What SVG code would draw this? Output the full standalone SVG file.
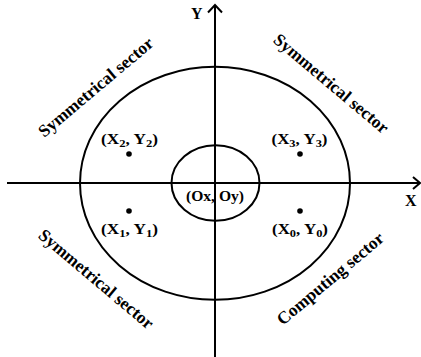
<svg xmlns="http://www.w3.org/2000/svg" width="421" height="357" viewBox="0 0 421 357">
<style>
.ln{fill:none;stroke:#000;stroke-width:2}
.t{font-family:"Liberation Serif","Times New Roman",serif;font-weight:bold;fill:#000}
.c{font-size:15px;text-anchor:middle}
.s{font-size:17.5px;text-anchor:middle}
.ax{font-size:16px}
.sub{font-size:11px}
</style>
<rect width="421" height="357" fill="#fff"/>
<g id="connectors">
  <line class="ln" x1="215" y1="5" x2="215" y2="357"/>
  <polyline class="ln" points="208,12.5 215,5 222,12.5"/>
  <line class="ln" x1="7" y1="183" x2="420" y2="183"/>
  <polyline class="ln" points="413,177 420,183 413,189"/>
</g>
<g id="outer-region"><ellipse class="ln" cx="215" cy="183.3" rx="135" ry="116.5"/></g>
<g id="inner-region"><ellipse class="ln" cx="215.5" cy="183" rx="44" ry="37.8"/></g>
<g id="axis-labels">
  <text class="t ax" x="191" y="19">Y</text>
  <text class="t ax" x="405" y="206">X</text>
</g>
<g id="origin"><text class="t c" x="215" y="201" textLength="58" lengthAdjust="spacingAndGlyphs">(Ox, Oy)</text></g>
<g id="point-2">
  <circle cx="129" cy="154" r="2.8"/>
  <text class="t c" x="129.5" y="144" textLength="57" lengthAdjust="spacingAndGlyphs">(X<tspan class="sub" dy="3">2</tspan><tspan dy="-3">, Y</tspan><tspan class="sub" dy="3">2</tspan><tspan dy="-3">)</tspan></text>
</g>
<g id="point-3">
  <circle cx="300" cy="154" r="2.8"/>
  <text class="t c" x="299.5" y="144" textLength="56" lengthAdjust="spacingAndGlyphs">(X<tspan class="sub" dy="3">3</tspan><tspan dy="-3">, Y</tspan><tspan class="sub" dy="3">3</tspan><tspan dy="-3">)</tspan></text>
</g>
<g id="point-1">
  <circle cx="129" cy="211" r="2.8"/>
  <text class="t c" x="129.5" y="234" textLength="57" lengthAdjust="spacingAndGlyphs">(X<tspan class="sub" dy="3">1</tspan><tspan dy="-3">, Y</tspan><tspan class="sub" dy="3">1</tspan><tspan dy="-3">)</tspan></text>
</g>
<g id="point-0">
  <circle cx="300" cy="211" r="2.8"/>
  <text class="t c" x="300" y="234" textLength="56" lengthAdjust="spacingAndGlyphs">(X<tspan class="sub" dy="3">0</tspan><tspan dy="-3">, Y</tspan><tspan class="sub" dy="3">0</tspan><tspan dy="-3">)</tspan></text>
</g>
<g id="sector-top-left"><text class="t s" transform="translate(99.5,91.5) rotate(-40)">Symmetrical sector</text></g>
<g id="sector-top-right"><text class="t s" transform="translate(327.5,88) rotate(40)">Symmetrical sector</text></g>
<g id="sector-bottom-left"><text class="t s" transform="translate(92.5,283.5) rotate(40)">Symmetrical sector</text></g>
<g id="sector-bottom-right"><text class="t s" transform="translate(334,283) rotate(-40)">Computing sector</text></g>
</svg>
